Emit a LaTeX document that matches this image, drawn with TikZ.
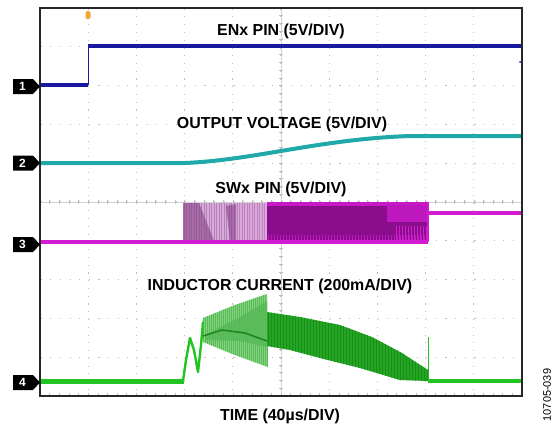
\documentclass[tikz,border=0pt]{standalone}
\usepackage{fontspec}
\setmainfont{Liberation Sans}
\definecolor{enblue}{HTML}{1A1AA0}
\definecolor{vteal}{HTML}{1FA9A9}
\definecolor{swmag}{HTML}{D21CD2}
\definecolor{swlight}{HTML}{DBA8DB}
\definecolor{swmid}{HTML}{A86AA8}
\definecolor{swdark}{HTML}{8A0E8C}
\definecolor{ilgreen}{HTML}{22C422}
\definecolor{illight}{HTML}{86D482}
\definecolor{ilmid}{HTML}{56BA56}
\definecolor{ildark}{HTML}{22A622}
\definecolor{gridgrey}{HTML}{BEBEBE}
\definecolor{trig}{HTML}{F0A838}
\tikzset{
  lbl/.style={font=\bfseries\fontsize{16}{19}\selectfont, inner sep=0pt, anchor=base},
  mk/.style={font=\bfseries\fontsize{12}{14}\selectfont, text=white, inner sep=0pt},
  mkshape/.style={fill=black},
  gridv/.style={gridgrey, line width=1.1bp, dash pattern=on 1.1bp off 6.66bp},
  gridh/.style={gridgrey, line width=1.1bp, dash pattern=on 1.1bp off 8.54bp},
  tick/.style={gridgrey, line width=0.6bp},
  trace/.style={line width=3.6bp, line cap=butt},
}
\begin{document}
\begin{tikzpicture}[x=1bp,y=-1bp]
\useasboundingbox (0,0) rectangle (558,427);
\fill[white] (0,0) rectangle (558,427);
% grid
\foreach \k in {1,...,9} {
  \draw[gridv] (40+48.2*\k,8.6) -- (40+48.2*\k,396);
  \draw[gridh] (40.6,8+38.8*\k) -- (522,8+38.8*\k);
}
% centre cross with ticks
\draw[gridgrey!70, line width=0.6bp] (281,8) -- (281,396);
\draw[gridgrey!70, line width=0.6bp] (40,202) -- (522,202);
\foreach \k in {1,...,49} {
  \draw[tick] (40+9.64*\k,200) -- (40+9.64*\k,204);
  \draw[tick] (40+9.64*\k,396) -- (40+9.64*\k,392.5);
}
\foreach \k in {1,...,49} {
  \draw[tick] (279,8+7.76*\k) -- (283,8+7.76*\k);
}
% ---------- ENx trace ----------
\draw[enblue, trace] (40,85) -- (88,85);
\draw[enblue, line width=0.8bp] (88,85) -- (88,46);
\draw[enblue, trace] (88,46) -- (522,46);
\fill[enblue] (520,62) circle (1bp);
% trigger marker
\fill[trig, rounded corners=1.5bp] (85.5,11) rectangle (90.5,19);
% ---------- output voltage ----------
\draw[vteal, line width=4bp] (40,163) -- (185,163)
  .. controls (255,160) and (320,139) .. (410,136) -- (522,136);
% ---------- SWx ----------
\fill[swlight] (183,203) rectangle (267,242);
\begin{scope}
  \clip (236,203) rectangle (267,242);
  \foreach \x in {237,239.5,...,267} \draw[swmid!60!swlight, line width=0.6bp] (\x,203) -- (\x,242);
\end{scope}
\fill[swmid] (183,203) -- (199,203) -- (214,241) -- (183,241) -- cycle;
\fill[swmid] (226,206) -- (236,204) -- (236,241) -- (230,241) -- cycle;
\begin{scope}
  \clip (183,203) rectangle (236,242);
  \foreach \x in {184,186.5,...,236} \draw[swmid!70!black, line width=0.4bp, opacity=0.4] (\x,203) -- (\x,242);
\end{scope}
\fill[swdark] (267,203) rectangle (428,242);
\fill[swmag!80!swdark] (267,202) rectangle (428,206);
\fill[swmag!70!swdark] (387,205) rectangle (428,222);
\begin{scope}
  \clip (267,222) rectangle (428,242);
  \foreach \x in {268,271,...,428} \draw[swmag!75!swdark, line width=0.6bp] (\x,235) -- (\x,242);
  \foreach \x in {396,399,...,428} \draw[swmag, line width=0.7bp] (\x,226) -- (\x,242);
\end{scope}
\draw[swmag, line width=1.2bp] (428,202) -- (428,242);
\draw[swmag, trace] (40,242) -- (428,242);
\draw[swmag, trace] (428,213) -- (522,213);
% ---------- inductor current ----------
\fill[illight] (202,325) -- (203,318) -- (235,305) -- (267,294) -- (268,367)
  -- (235,355) -- (203,342) -- cycle;
\begin{scope}
  \clip (202,325) -- (203,318) -- (235,305) -- (267,294) -- (268,367)
  -- (235,355) -- (203,342) -- cycle;
  \foreach \x in {203,205,...,268} \draw[ilmid, line width=0.6bp] (\x,290) -- (\x,370);
\end{scope}
\fill[ilmid, opacity=0.85] (206,334) -- (240,317) -- (267,301) -- (267,347) -- (240,341) -- (206,340) -- cycle;
\draw[ildark!80!black, line width=1.5bp] (203,336) -- (222,330) -- (245,333) -- (267,341);
\fill[ildark] (267,312) -- (300,317) -- (340,325) -- (372,337) -- (402,353)
  -- (428,370) -- (428,381) -- (400,380) -- (360,368) -- (320,358)
  -- (290,350) -- (267,346) -- cycle;
\begin{scope}
  \clip (267,312) -- (300,317) -- (340,325) -- (372,337) -- (402,353)
  -- (428,370) -- (428,381) -- (400,380) -- (360,368) -- (320,358)
  -- (290,350) -- (267,346) -- cycle;
  \foreach \x in {268,271,...,428} \draw[ildark!85!black, line width=0.5bp] (\x,300) -- (\x,390);
\end{scope}
\draw[ilgreen, line width=2.4bp, line join=round] (183,381) -- (186,360) -- (190,338)
  -- (194,350) -- (198,372) -- (201,345) -- (203,322);
\draw[ilgreen, line width=0.8bp] (428,381) -- (428,337);
\draw[ilgreen, line width=4.5bp] (40,381.5) -- (184,381.5);
\draw[ilgreen, line width=4.5bp] (428,381) -- (522,381);
% ---------- frame ----------
\draw[black!85, line width=1.6bp] (40,8) rectangle (522,396);
% ---------- channel markers ----------
\foreach \n/\yy in {1/86.5,2/163,3/244.5,4/382.5} {
  \fill[mkshape] (13,\yy-7.5) -- (33,\yy-7.5) -- (40,\yy) -- (33,\yy+7.5) -- (13,\yy+7.5) -- cycle;
  \node[mk] (m\n) at (22.5,\yy) {\n};
}
% ---------- labels ----------
\node[lbl] (en) at (281,35) {ENx PIN (5V/DIV)};
\node[lbl] (vo) at (282,128) {OUTPUT VOLTAGE (5V/DIV)};
\node[lbl] (sw) at (281,193) {SWx PIN (5V/DIV)};
\node[lbl] (il) at (280,290) {INDUCTOR CURRENT (200mA/DIV)};
\node[lbl] (tm) at (280,420) {TIME (40µs/DIV)};
\node[font=\fontsize{11}{13}\selectfont, inner sep=0pt, rotate=90] (fig) at (547,395) {10705-039};
\end{tikzpicture}
\end{document}
